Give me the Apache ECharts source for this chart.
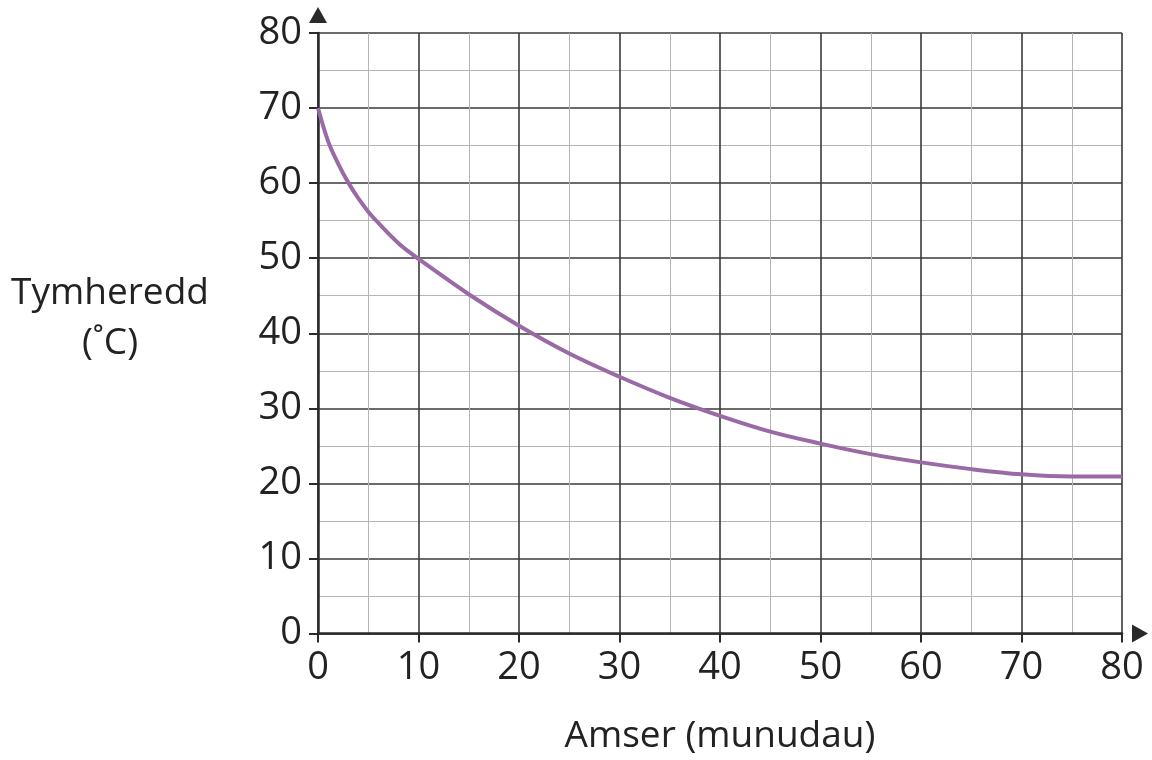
<!DOCTYPE html>
<html><head><meta charset="utf-8">
<script src="https://cdn.jsdelivr.net/npm/echarts@6/dist/echarts.min.js"></script>
<style>html,body{margin:0;padding:0;background:#fff}#c{width:1152px;height:760px}</style>
</head><body><div id="c"></div>
<script>
const minutes = [0, 1, 2, 3, 4, 5, 6, 7, 8, 9, 10, 15, 20, 25, 30, 35, 40, 45, 50, 55, 60, 65, 70, 75, 80];
const temperature = [70, 65.6, 62.6, 60.1, 58.0, 56.2, 54.7, 53.3, 52.0, 50.9, 49.9, 45.2, 41.0, 37.3, 34.2, 31.4, 29.0, 26.9, 25.3, 23.9, 22.8, 21.9, 21.2, 20.9, 20.9];
const xName = 'Amser (munudau)';
const yName = 'Tymheredd\n(˚C)';
const font = '"Open Sans", "Noto Sans", sans-serif';

const chart = echarts.init(document.getElementById('c'));
const axisCommon = {
  type: 'value', min: 0, max: 80, interval: 10,
  axisLine: { show: true, lineStyle: { color: '#2a2a2a', width: 2.5 }, symbol: ['none', 'triangle'], symbolSize: [18, 16], symbolOffset: [0, 18] },
  axisTick: { show: true, length: 9, lineStyle: { color: '#2a2a2a', width: 2 } },
  axisLabel: { color: '#222', fontSize: 38, fontFamily: font, margin: 16 },
  splitLine: { show: true, lineStyle: { color: '#3a3a3a', width: 1.6 } },
  minorTick: { show: false, splitNumber: 2 },
  minorSplitLine: { show: true, lineStyle: { color: '#b5b5b5', width: 1 } },
  nameTextStyle: { color: '#222', fontSize: 37, fontFamily: font }
};
chart.setOption({
  backgroundColor: '#ffffff',
  animation: false,
  grid: { left: 318, right: 30, top: 33, bottom: 126, containLabel: false },
  graphic: [{
    type: 'text', x: 110, y: 318,
    style: { text: yName, textAlign: 'center', textVerticalAlign: 'middle', verticalAlign: 'middle', fill: '#222', fontSize: 37, fontFamily: font, lineHeight: 50 }
  }],
  xAxis: Object.assign({}, axisCommon, {
    name: xName, nameLocation: 'middle', nameGap: 103,
    nameTextStyle: Object.assign({}, axisCommon.nameTextStyle, { verticalAlign: 'middle' })
  }),
  yAxis: Object.assign({}, axisCommon),
  series: [{
    type: 'line',
    data: minutes.map((m, i) => [m, temperature[i]]),
    smooth: 0.35,
    showSymbol: false,
    lineStyle: { color: '#9a6aa6', width: 4 }
  }]
});
</script></body></html>
